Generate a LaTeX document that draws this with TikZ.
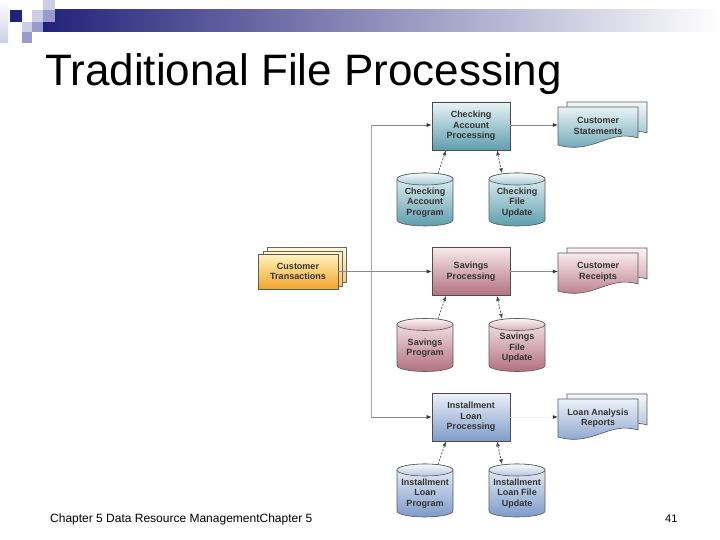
\documentclass[tikz,border=0pt]{standalone}
\usepackage{fontspec}
\setmainfont{Liberation Sans}
\usetikzlibrary{arrows.meta,calc}
\definecolor{hdnavy}{HTML}{22227A}
\definecolor{hdmid}{HTML}{A8A8C4}
\definecolor{sqlight}{HTML}{CDCDE8}
\definecolor{sqmid}{HTML}{9A9ACC}
\definecolor{tealtop}{HTML}{E8F4F6}
\definecolor{tealbot}{HTML}{5E9EAE}
\definecolor{pinktop}{HTML}{F8EAED}
\definecolor{pinkbot}{HTML}{B2707F}
\definecolor{bluetop}{HTML}{EEF2FA}
\definecolor{bluebot}{HTML}{7E9BC8}
\definecolor{orgtop}{HTML}{FFF4C0}
\definecolor{orgbot}{HTML}{F4A52A}
\definecolor{linegray}{HTML}{8A8A8A}
\newcommand\boxfont{\fontsize{9}{10.5}\selectfont\bfseries}
\newcommand\mydocstack[6]{%
  \begin{scope}[shift={(#1,#2)}]
    \shade[top color=#3!60!white, bottom color=#4!80!white, draw=black!65, line width=0.6pt]
      (9,-5) -- (89,-5) -- (89,26) .. controls (59,17) and (44,43) .. (9,33) -- cycle;
    \shade[top color=#3, bottom color=#4, draw=black!65, line width=0.6pt]
      (0,0) -- (80,0) -- (80,31) .. controls (50,22) and (35,48) .. (0,38) -- cycle;
    \node[doctext] (#5) at (40,19) {#6};
  \end{scope}}
\newcommand\mycyl[6]{%
  \begin{scope}[shift={(#1,#2)}]
    \shade[top color=#3, bottom color=#4, draw=black!65, line width=0.6pt]
      (-28,-20.5) -- (-28,20.5) arc[start angle=180, end angle=0, x radius=28, y radius=6]
      -- (28,-20.5) arc[start angle=0, end angle=-180, x radius=28, y radius=6] -- cycle;
    \shade[top color=#3!40!white, bottom color=#3!50!#4, draw=black!65, line width=0.6pt]
      (0,-20.5) ellipse[x radius=28, y radius=6];
    \node[cyltext] (#5) at (0,3) {#6};
  \end{scope}}
\begin{document}
\begin{tikzpicture}[x=1pt,y=-1pt,
  procbox/.style={draw=black!70, line width=0.6pt, minimum width=78pt, minimum height=48pt,
    align=center, font=\boxfont, text=black!80, inner sep=1pt},
  cyltext/.style={align=center, font=\boxfont, text=black!80, minimum width=56pt, minimum height=40pt, inner sep=0pt},
  doctext/.style={align=center, font=\boxfont, text=black!80, minimum width=80pt, minimum height=10pt, inner sep=0pt},
  conn/.style={draw=linegray, line width=0.7pt},
  arr/.style={conn, -{Latex[length=5pt,width=4pt,color=black!80]}},
  darr/.style={draw=black!70, line width=0.7pt, dash pattern=on 2pt off 1.5pt, -{Latex[length=5pt,width=4pt]}},
  ddarr/.style={darr, {Latex[length=5pt,width=4pt]}-{Latex[length=5pt,width=4pt]}},
]
\useasboundingbox (0,0) rectangle (720,540);
% header decoration
\shade[left color=hdnavy, middle color=hdmid, right color=white] (43,10) rectangle (720,32);
\shade[top color=white, bottom color=sqlight] (0,0) rectangle (8,43);
\fill[hdnavy] (10,10) rectangle (22,22);
\fill[sqlight] (43,0) rectangle (55,10);
\fill[sqlight] (32,10) rectangle (43,22);
\fill[sqmid] (43,10) rectangle (55,22);
\fill[sqlight] (22,22) rectangle (32,32);
\fill[sqmid] (32,22) rectangle (43,32);
\fill[sqmid] (22,32) rectangle (32,43);
% title
\node[anchor=base west, inner sep=0pt, font=\fontsize{44}{50}\selectfont] (title) at (45,86) {Traditional File Processing};
% processing boxes
\node[procbox, top color=tealtop, bottom color=tealbot] (cap) at (471,126) {Checking\\Account\\Processing};
\node[procbox, top color=pinktop, bottom color=pinkbot] (sp) at (471,271.5) {Savings\\Processing};
\node[procbox, top color=bluetop, bottom color=bluebot] (lp) at (471,417) {Installment\\Loan\\Processing};
% cylinders
\mycyl{425}{199.5}{tealtop}{tealbot}{cprog}{Checking\\Account\\Program}
\mycyl{517}{199.5}{tealtop}{tealbot}{cfile}{Checking\\File\\Update}
\mycyl{425}{345}{pinktop}{pinkbot}{sprog}{Savings\\Program}
\mycyl{517}{345}{pinktop}{pinkbot}{sfile}{Savings\\File\\Update}
\mycyl{425}{490.5}{bluetop}{bluebot}{lprog}{Installment\\Loan\\Program}
\mycyl{517}{490.5}{bluetop}{bluebot}{lfile}{Installment\\Loan File\\Update}
% documents
\mydocstack{558}{107}{tealtop}{tealbot}{cs}{Customer\\Statements}
\mydocstack{558}{253}{pinktop}{pinkbot}{cr}{Customer\\Receipts}
\mydocstack{558}{399}{bluetop}{bluebot}{la}{Loan Analysis\\Reports}
% customer transactions
\shade[top color=orgtop!60!white, bottom color=orgbot!60!white, draw=black!60, line width=0.6pt] (267,247) rectangle (346,282);
\shade[top color=orgtop!70!white, bottom color=orgbot!70!white, draw=black!60, line width=0.6pt] (263,251) rectangle (342,286);
\node[draw=black!65, line width=0.6pt, top color=orgtop, bottom color=orgbot, minimum width=80pt, minimum height=35pt,
  align=center, font=\boxfont, text=black!80, inner sep=1pt] (ct) at (298,271.5) {Customer\\Transactions};
% connectors
\coordinate (vt) at (371,125);
\coordinate (vb) at (371,417);
\draw[conn, draw=black!35] (vt) -- (vb);
\draw[arr] (vt) -- (vt -| cap.west);
\draw[arr] (vb) -- (vb -| lp.west);
\draw[arr] (ct.east) -- (sp.west);
\draw[arr] (cap.east |- vt) -- (vt -| cs.west);
\draw[arr] (sp.east) -- (sp.east -| cr.west);
\draw[arr, draw=black!6] (lp.east) -- (lp.east -| la.west);
% dashed links
\draw[darr] ($(cprog.north)+(13,-9)$) -- ($(cap.south)+(-25,0)$);
\draw[ddarr] ($(cap.south)+(26,0)$) -- ($(cfile.north)+(-15,-9)$);
\draw[darr] ($(sprog.north)+(13,-9)$) -- ($(sp.south)+(-25,0)$);
\draw[ddarr] ($(sp.south)+(26,0)$) -- ($(sfile.north)+(-15,-9)$);
\draw[darr] ($(lprog.north)+(13,-9)$) -- ($(lp.south)+(-25,0)$);
\draw[ddarr] ($(lp.south)+(26,0)$) -- ($(lfile.north)+(-15,-9)$);
% footer
\node[anchor=base west, inner sep=0pt, font=\fontsize{12}{14}\selectfont] (foot) at (50,522) {Chapter 5 Data Resource ManagementChapter 5};
\node[anchor=base west, inner sep=0pt, font=\fontsize{11}{13}\selectfont] (pg) at (665,522) {41};
\end{tikzpicture}
\end{document}
